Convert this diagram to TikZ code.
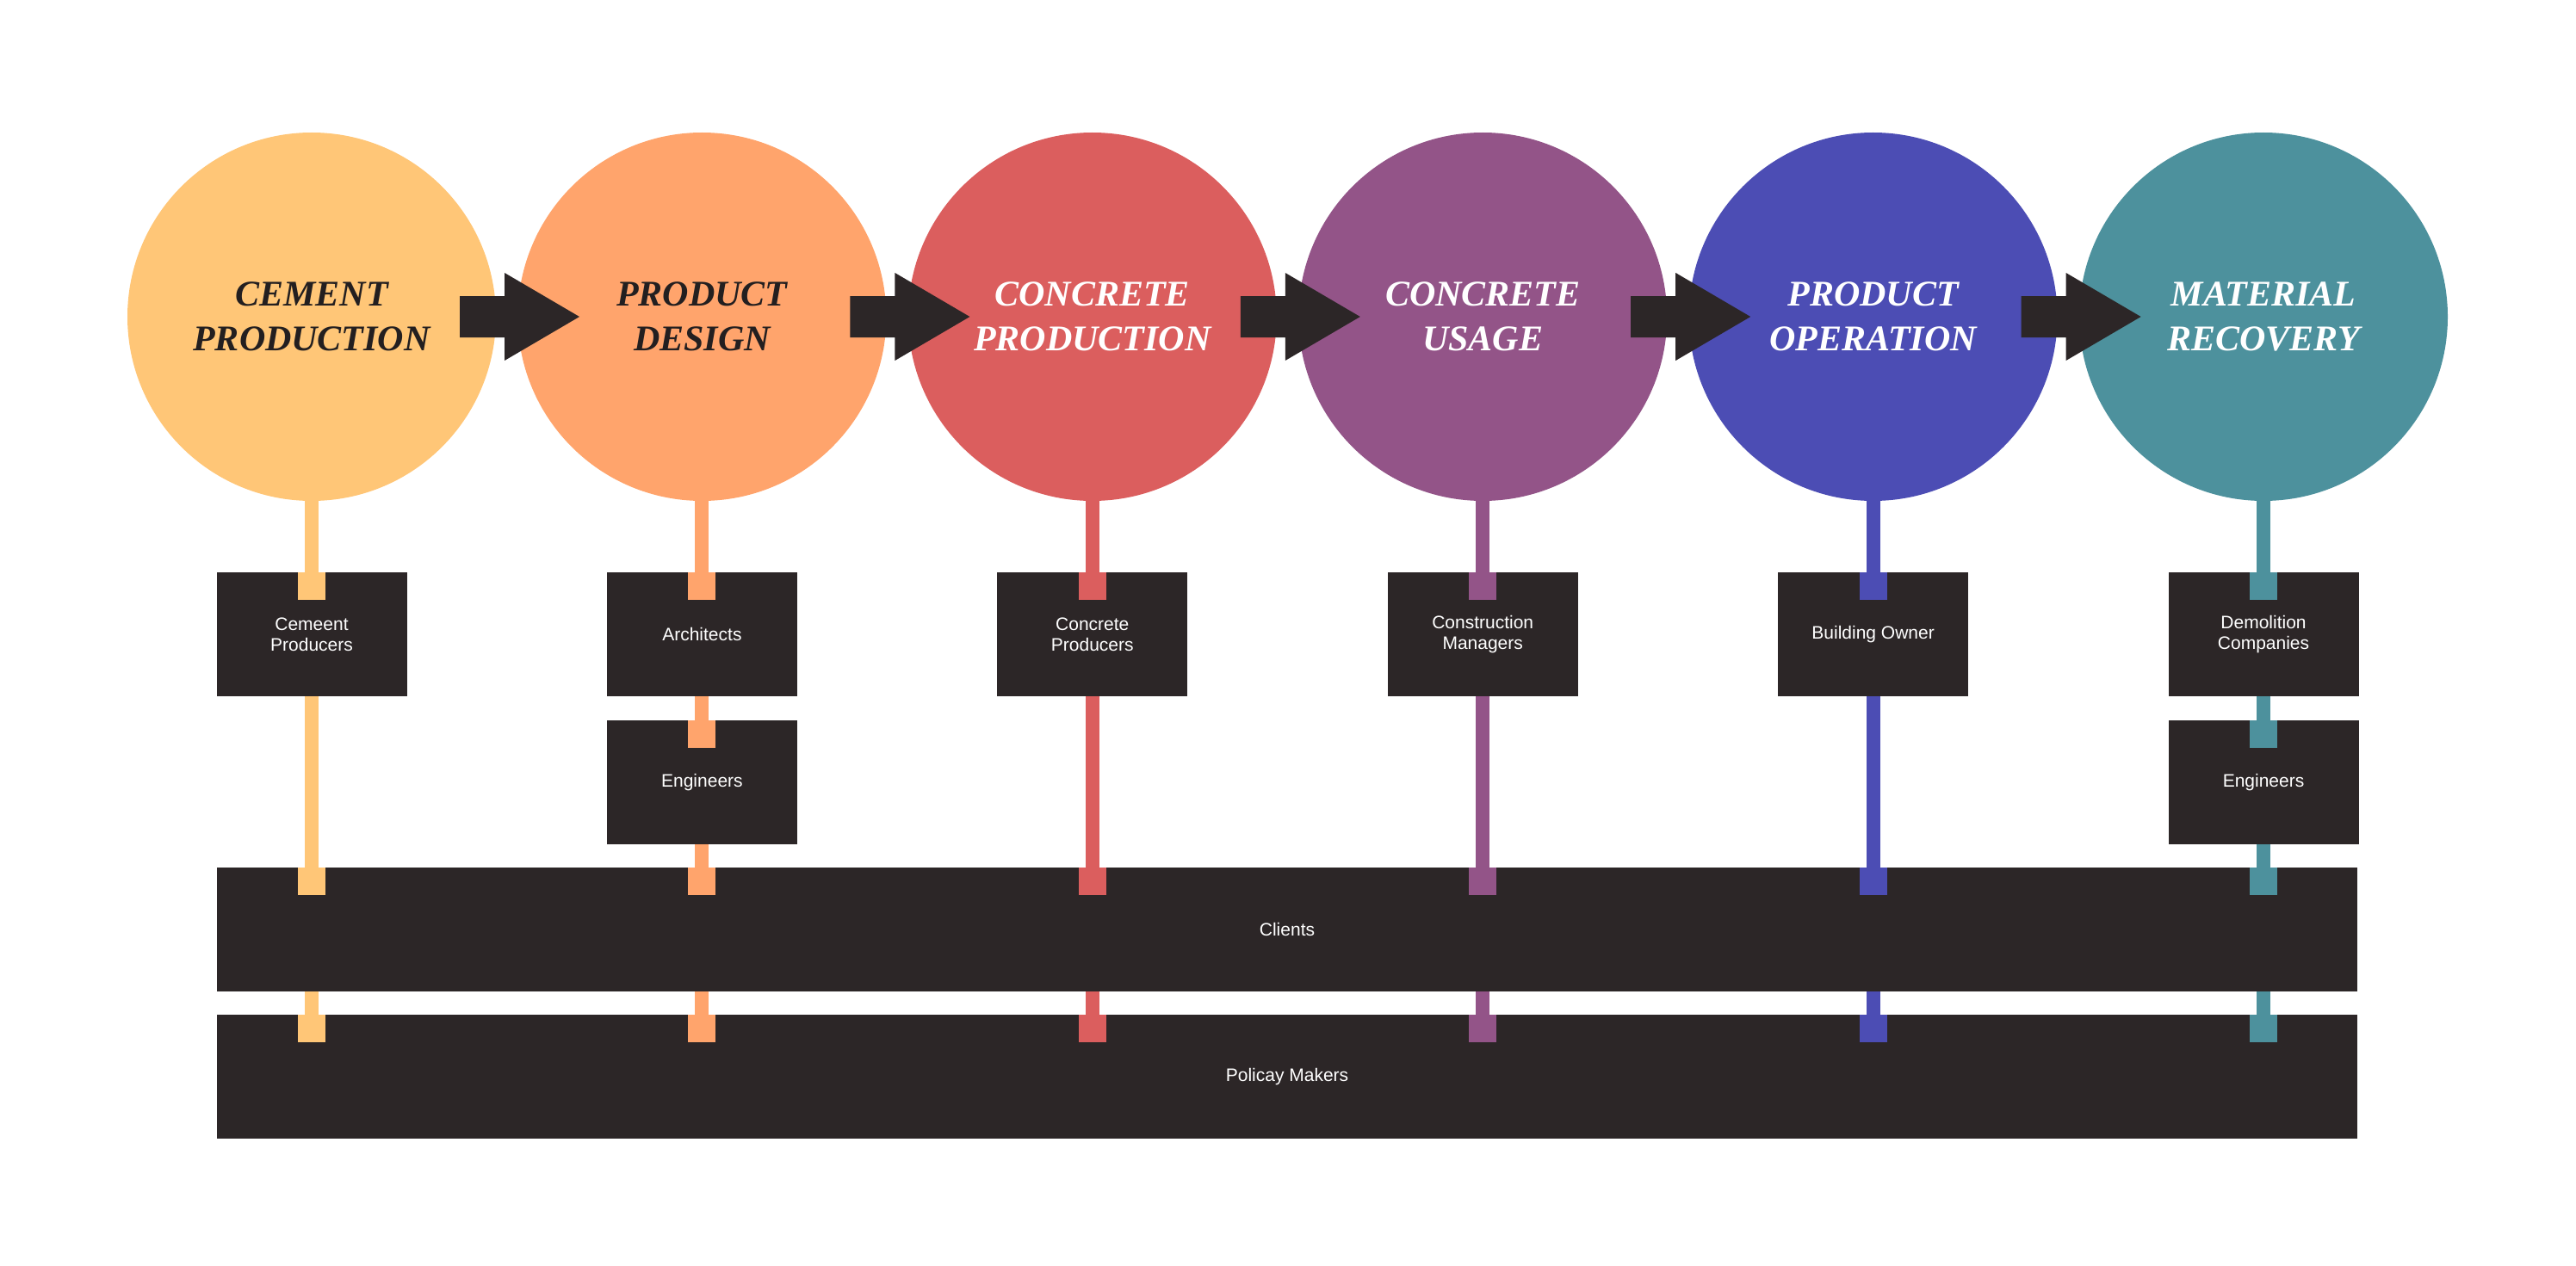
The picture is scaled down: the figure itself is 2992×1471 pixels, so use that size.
\documentclass[tikz,border=0pt]{standalone}
\usepackage{fontspec}
\setmainfont{Liberation Serif}
\newfontfamily\actorfont{Liberation Sans}
\usetikzlibrary{positioning,backgrounds}

\definecolor{ink}{HTML}{2C2627}
\definecolor{inktext}{HTML}{231F20}
\definecolor{cementc}{HTML}{FFC677}
\definecolor{designc}{HTML}{FFA46C}
\definecolor{concretec}{HTML}{DB5E5E}
\definecolor{usagec}{HTML}{935488}
\definecolor{operc}{HTML}{4C4DB4}
\definecolor{recovc}{HTML}{4D919D}

\tikzset{
  stage/.style={circle, minimum size=214pt, inner sep=0pt, outer sep=0pt, align=center, text=inktext,
    font=\fontsize{21}{26}\selectfont\bfseries\itshape},
  actor/.style={rectangle, fill=ink, text=white, minimum width=110.5pt, minimum height=72pt,
    inner sep=0pt, outer sep=0pt, align=center, font=\actorfont\fontsize{10.5}{12}\selectfont},
  tab/.style={rectangle, minimum size=16pt, inner sep=0pt, outer sep=0pt, anchor=north},
  stem/.style={line width=8pt},
}

\begin{document}
\begin{tikzpicture}[x=0.5pt,y=0.5pt,yscale=-1,xscale=1]
\useasboundingbox (0,0) rectangle (2992,1471);

% Stages
\node[stage, fill=cementc] (s1) at (362,368) {CEMENT\\PRODUCTION};
\node[stage, fill=designc, right=12.7pt of s1] (s2) {PRODUCT\\DESIGN};
\node[stage, fill=concretec, text=white, right=12.7pt of s2] (s3) {CONCRETE\\PRODUCTION};
\node[stage, fill=usagec, text=white, right=12.7pt of s3] (s4) {CONCRETE\\USAGE};
\node[stage, fill=operc, text=white, right=12.7pt of s4] (s5) {PRODUCT\\OPERATION};
\node[stage, fill=recovc, text=white, right=12.7pt of s5] (s6) {MATERIAL\\RECOVERY};

% Actors
\node[actor, below=41.5pt of s1] (a1) {Cemeent\\Producers};
\node[actor, below=41.5pt of s2] (a2) {Architects};
\node[actor, below=14pt of a2] (e2) {Engineers};
\node[actor, below=41.5pt of s3] (a3) {Concrete\\Producers};
\node[actor, below=41.5pt of s4] (a4) {Construction\\Managers};
\node[actor, below=41.5pt of s5] (a5) {Building Owner};
\node[actor, below=41.5pt of s6] (a6) {Demolition\\Companies};
\node[actor, below=14pt of a6] (e6) {Engineers};

% Bars
\node[actor, minimum width=1243pt] (cl) at (1495,1080) {Clients};
\node[actor, minimum width=1243pt, below=13.5pt of cl] (pm) {Policay Makers};

% Stems
\begin{pgfonlayer}{background}
\foreach \i/\c in {1/cementc,2/designc,3/concretec,4/usagec,5/operc,6/recovc}
  \draw[stem, draw=\c] (s\i) -- (s\i |- pm.north);
\end{pgfonlayer}

% Tabs
\foreach \i/\c in {1/cementc,2/designc,3/concretec,4/usagec,5/operc,6/recovc} {
  \node[tab, fill=\c] (ta\i) at (s\i |- a\i.north) {};
  \node[tab, fill=\c] (tc\i) at (s\i |- cl.north) {};
  \node[tab, fill=\c] (tp\i) at (s\i |- pm.north) {};
}
\node[tab, fill=designc] (te2) at (s2 |- e2.north) {};
\node[tab, fill=recovc] (te6) at (s6 |- e6.north) {};

% Flow arrows
\foreach \i in {1,...,5}
  \fill[ink] ([xshift=155.5pt]s\i.center) -- ++(-87,-51) -- ++(0,27) -- ++(-52,0)
    -- ++(0,48) -- ++(52,0) -- ++(0,27) -- cycle;

\end{tikzpicture}
\end{document}
